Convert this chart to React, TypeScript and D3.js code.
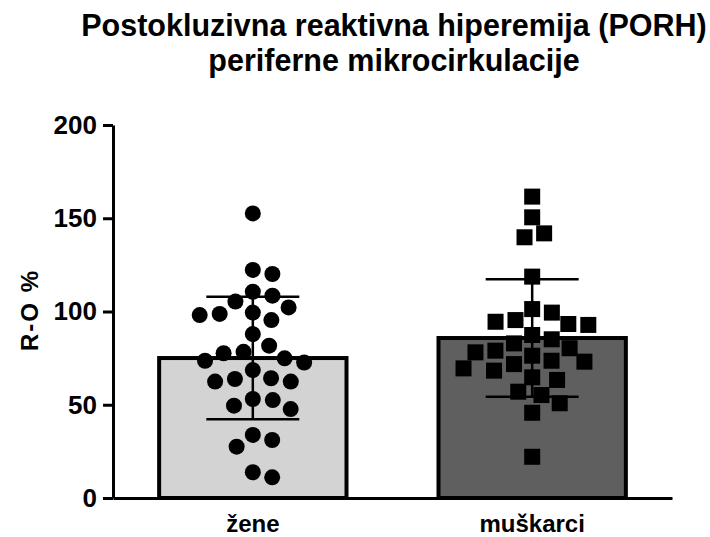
import React, { useEffect, useRef } from "react";
import * as d3 from "d3";

const titleLines = ["Postokluzivna reaktivna hiperemija (PORH)", "periferne mikrocirkulacije"];
const categories = ["žene", "muškarci"];
const yLabel = "R-O %";
const yTicks = [0, 50, 100, 150, 200];

const zene = [
  152.6, 122.3, 120.1, 108.5, 110.6, 105.3, 102.2, 98.7, 95.4, 98.1, 99.4,
  87.9, 81.7, 78.4, 74.9, 77.6, 72.6, 73.6, 68.6, 64.2, 62.4, 62.4, 63.8,
  52.5, 47.7, 49.5, 53.1, 31.1, 27.5, 33.8, 11.1, 13.8,
];
const muskarci = [
  161.6, 150.5, 139.8, 141.9, 118.7, 99.4, 94.5, 92.8, 93.3, 95.4, 101.3,
  85.1, 87.4, 80.3, 78.1, 76.3, 79.0, 82.9, 73.6, 71.8, 73.1, 68.3, 69.5,
  63.3, 64.7, 57.0, 55.2, 50.8, 45.7, 22.1,
];
const barFills = ["#d3d3d3", "#5f5f5f"];
const markerShapes = ["circle", "square"];

const FONT = "'Liberation Sans', Arial, Helvetica, sans-serif";

// greedy beeswarm: returns pixel offsets from the column centre
function swarm(ys: number[], diam: number): number[] {
  const order = d3.range(ys.length).sort((a, b) => ys[a] - ys[b]);
  const placed: { x: number; y: number }[] = [];
  const out = new Array(ys.length).fill(0);
  order.forEach((i) => {
    const yy = ys[i];
    const cands = [0];
    placed.forEach((p) => {
      const dy = Math.abs(p.y - yy);
      if (dy < diam) {
        const dx = Math.sqrt(diam * diam - dy * dy);
        cands.push(p.x + dx, p.x - dx);
      }
    });
    cands.sort((a, b) => Math.abs(a) - Math.abs(b) || b - a);
    const ok = cands.find((cx) =>
      placed.every((p) => (p.x - cx) ** 2 + (p.y - yy) ** 2 >= diam * diam - 0.01)
    );
    const xx = ok === undefined ? 0 : ok;
    placed.push({ x: xx, y: yy });
    out[i] = xx;
  });
  return out;
}

function drawChart(node: SVGSVGElement) {
  const svg = d3.select(node);
  svg.selectAll("*").remove();

  const x = d3.scaleBand<string>()
    .domain(categories)
    .range([113, 672])
    .paddingInner(0.315)
    .paddingOuter(0.158);
  const y = d3.scaleLinear().domain([0, 200]).range([498, 125]);

  const groups = categories.map((name, i) => {
    const values = [zene, muskarci][i];
    return {
      name,
      values,
      mean: d3.mean(values) as number,
      sd: d3.deviation(values) as number,
      fill: barFills[i],
      shape: markerShapes[i],
    };
  });

  // title
  svg.append("g")
    .selectAll("text")
    .data(titleLines)
    .join("text")
    .attr("x", 394)
    .attr("y", (d, i) => 36 + i * 35)
    .attr("text-anchor", "middle")
    .style("font-family", FONT)
    .style("font-weight", "bold")
    .style("font-size", "30.5px")
    .text((d) => d);

  // bars
  svg.append("g")
    .selectAll("rect")
    .data(groups)
    .join("rect")
    .attr("x", (d) => (x(d.name) as number) + 2)
    .attr("y", (d) => y(d.mean))
    .attr("width", x.bandwidth() - 4)
    .attr("height", (d) => y(0) - y(d.mean))
    .attr("fill", (d) => d.fill)
    .attr("stroke", "#000")
    .attr("stroke-width", 4);

  // points
  const pts = svg.append("g");
  groups.forEach((g) => {
    const cx = (x(g.name) as number) + x.bandwidth() / 2;
    const offs = swarm(g.values.map((v) => y(v)), 20);
    const sel = pts.append("g").selectAll(g.shape === "circle" ? "circle" : "rect")
      .data(g.values)
      .join(g.shape === "circle" ? "circle" : "rect")
      .attr("fill", "#000");
    if (g.shape === "circle") {
      sel.attr("cx", (d, i) => cx + offs[i]).attr("cy", (d) => y(d)).attr("r", 8);
    } else {
      sel.attr("x", (d, i) => cx + offs[i] - 8).attr("y", (d) => y(d) - 8)
        .attr("width", 16).attr("height", 16);
    }
  });

  // error bars (mean ± SD)
  const eb = svg.append("g").attr("stroke", "#000").attr("stroke-width", 2.5);
  groups.forEach((g) => {
    const cx = (x(g.name) as number) + x.bandwidth() / 2;
    eb.append("line").attr("x1", cx).attr("x2", cx)
      .attr("y1", y(g.mean - g.sd)).attr("y2", y(g.mean + g.sd));
    [g.mean - g.sd, g.mean + g.sd].forEach((v) => {
      eb.append("line").attr("x1", cx - 46.5).attr("x2", cx + 46.5)
        .attr("y1", y(v)).attr("y2", y(v));
    });
  });

  // y axis
  const yAxis = svg.append("g")
    .attr("transform", "translate(113,0)")
    .call(d3.axisLeft(y).tickValues(yTicks).tickSize(10).tickSizeOuter(0).tickPadding(6));
  yAxis.select(".domain").attr("stroke-width", 3);
  yAxis.selectAll(".tick line").attr("stroke-width", 3);
  yAxis.selectAll(".tick text")
    .attr("fill", "#000")
    .style("font-family", FONT)
    .style("font-weight", "bold")
    .style("font-size", "26px");

  // x axis
  const xAxis = svg.append("g")
    .attr("transform", "translate(0,498)")
    .call(d3.axisBottom(x).tickSize(0).tickSizeOuter(0).tickPadding(17));
  xAxis.select(".domain").attr("stroke-width", 3);
  xAxis.selectAll(".tick text")
    .attr("fill", "#000")
    .style("font-family", FONT)
    .style("font-weight", "bold")
    .style("font-size", "24px");

  // y label
  svg.append("text")
    .attr("transform", "translate(38,310) rotate(-90)")
    .attr("text-anchor", "middle")
    .style("font-family", FONT)
    .style("font-weight", "bold")
    .style("font-size", "24px")
    .style("letter-spacing", "2px")
    .text(yLabel);
}

export default function App() {
  const ref = useRef<SVGSVGElement>(null);
  useEffect(() => {
    if (ref.current) drawChart(ref.current);
  }, []);
  return (
    <svg
      ref={ref}
      width={710}
      height={537}
      style={{ position: "absolute", left: 0, top: 0, background: "#fff" }}
    />
  );
}
